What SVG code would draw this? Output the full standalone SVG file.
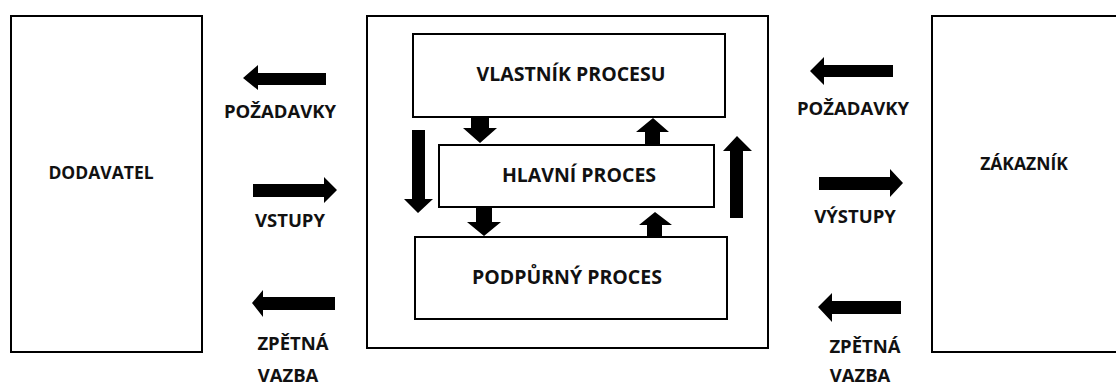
<svg xmlns="http://www.w3.org/2000/svg" width="1116" height="386" viewBox="0 0 1116 386">
<style>
.box{fill:#fff;stroke:#000;stroke-width:2}
.t{font-family:"Open Sans","Liberation Sans",sans-serif;font-weight:bold;font-size:17.5px;fill:#111;text-anchor:middle}
.i{font-size:19.5px}
.l{font-size:18.5px}
.ar{fill:#000}
</style>
<rect width="1116" height="386" fill="#fff"/>
<g id="dodavatel">
<rect class="box" x="11" y="16" width="191" height="336"/>
<text class="t" x="101" y="179">DODAVATEL</text>
</g>
<g id="proces">
<rect class="box" x="367" y="16" width="401" height="332"/>
</g>
<g id="vlastnik">
<rect class="box" x="413" y="34" width="312" height="83"/>
<text class="t i" x="571" y="81">VLASTNÍK PROCESU</text>
</g>
<g id="hlavni">
<rect class="box" x="439" y="145" width="275" height="62"/>
<text class="t i" x="579" y="182">HLAVNÍ PROCES</text>
</g>
<g id="podpurny">
<rect class="box" x="415" y="237" width="312" height="82"/>
<text class="t i" x="567" y="284">PODPŮRNÝ PROCES</text>
</g>
<g id="zakaznik">
<rect class="box" x="932" y="16" width="190" height="336"/>
<text class="t" x="1024" y="170">ZÁKAZNÍK</text>
</g>
<g id="connectors">
<polygon class="ar" points="243,78 258,65 258,73 326,73 326,85 258,85 258,90"/>
<text class="t l" x="280" y="118">POŽADAVKY</text>
<polygon class="ar" points="337,190 324,177 324,184 253,184 253,197 324,197 324,203"/>
<text class="t l" x="290" y="227">VSTUPY</text>
<polygon class="ar" points="252,303 263,290 263,297 335,297 335,310 263,310 263,317"/>
<text class="t l" x="293" y="350">ZPĚTNÁ</text>
<text class="t l" x="288" y="382">VAZBA</text>
<polygon class="ar" points="810,71 824,57 824,65 893,65 893,77 824,77 824,85"/>
<text class="t l" x="853" y="115">POŽADAVKY</text>
<polygon class="ar" points="903,183 890,169 890,177 819,177 819,190 890,190 890,197"/>
<text class="t l" x="855" y="223">VÝSTUPY</text>
<polygon class="ar" points="818,307 832,293 832,301 901,301 901,314 832,314 832,322"/>
<text class="t l" x="865" y="353">ZPĚTNÁ</text>
<text class="t l" x="860" y="382">VAZBA</text>
<polygon class="ar" points="471,117 489,117 489,128 497,128 480,143 463,128 471,128"/>
<polygon class="ar" points="645,144 660,144 660,132 669,132 653,118 636,132 645,132"/>
<polygon class="ar" points="412,130 425,130 425,199 433,199 418,213 404,199 412,199"/>
<polygon class="ar" points="730,218 743,218 743,151 752,151 737,136 723,151 730,151"/>
<polygon class="ar" points="476,208 492,208 492,222 501,222 484,236 467,222 476,222"/>
<polygon class="ar" points="647,236 662,236 662,225 672,225 655,212 639,225 647,225"/>
</g>
</svg>
